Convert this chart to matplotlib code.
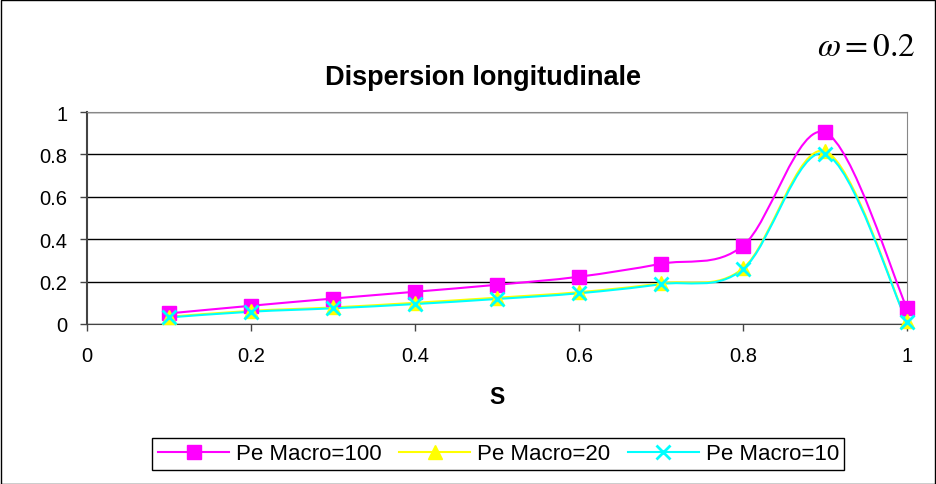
import matplotlib.pyplot as plt
import numpy as np
from matplotlib.path import Path
from matplotlib.patches import PathPatch, Rectangle
from matplotlib.lines import Line2D

plt.rcParams['font.family'] = ['Liberation Sans', 'DejaVu Sans']
plt.rcParams['mathtext.fontset'] = 'stix'

s = [0.1, 0.2, 0.3, 0.4, 0.5, 0.6, 0.7, 0.8, 0.9, 1.0]
pe100 = [0.050, 0.086, 0.120, 0.152, 0.185, 0.223, 0.284, 0.369, 0.904, 0.075]
pe20 = [0.034, 0.062, 0.078, 0.100, 0.124, 0.150, 0.192, 0.262, 0.815, 0.012]
pe10 = [0.031, 0.058, 0.074, 0.094, 0.118, 0.145, 0.188, 0.258, 0.803, 0.010]

names = ['Pe Macro=100', 'Pe Macro=20', 'Pe Macro=10']
colors = ['#FF00FF', '#FFFF00', '#00FFFF']
markers = ['s', '^', 'x']


def smooth_path(x, y):
    # excel-style smoothed line: bezier segments through the points
    p = np.column_stack([x, y])
    n = len(p)
    verts = [p[0]]
    codes = [Path.MOVETO]
    for i in range(n - 1):
        p0 = p[i - 1] if i > 0 else p[i]
        p3 = p[i + 2] if i + 2 < n else p[i + 1]
        c1 = p[i] + (p[i + 1] - p0) / 6
        c2 = p[i + 1] - (p3 - p[i]) / 6
        verts += [c1, c2, p[i + 1]]
        codes += [Path.CURVE4] * 3
    return Path(verts, codes)


fig = plt.figure(figsize=(9.37, 4.85), dpi=100)
fig.patches.append(Rectangle((0.001, 0.001), 0.997, 0.997, transform=fig.transFigure,
                             fill=False, edgecolor='black', linewidth=1))
ax = fig.add_axes([0.0928, 0.3299, 0.8751, 0.4371])

handles = []
for vals, name, c, m in zip([pe100, pe20, pe10], names, colors, markers):
    ax.add_patch(PathPatch(smooth_path(s, vals), fill=False, edgecolor=c,
                           linewidth=1.5, zorder=3, clip_on=False))
    if m == 'x':
        ax.plot(s, vals, ls='none', marker=m, ms=10, mew=2, color=c, zorder=4, clip_on=False)
    else:
        ax.plot(s, vals, ls='none', marker=m, ms=10, color=c, mec=c, zorder=4, clip_on=False)
    handles.append(Line2D([], [], color=c, marker=m, ms=10,
                          mew=2 if m == 'x' else 1, lw=1.5, label=name))

ax.set_xlim(0, 1)
ax.set_ylim(0, 1)
ax.set_xticks(np.arange(0, 1.01, 0.2))
ax.set_yticks(np.arange(0, 1.01, 0.2))
ax.set_xticklabels(['0', '0.2', '0.4', '0.6', '0.8', '1'])
ax.set_yticklabels(['0', '0.2', '0.4', '0.6', '0.8', '1'])
ax.yaxis.grid(True, color='black', linewidth=1)
ax.set_axisbelow(True)
ax.tick_params(labelsize=14.5, length=5, width=1, color='#444444')
ax.tick_params(axis='x', pad=11)
ax.tick_params(axis='y', pad=9)
for side in ['top', 'right']:
    ax.spines[side].set_color('#888888')
for side in ['left', 'bottom']:
    ax.spines[side].set_color('#444444')
ax.spines['left'].set_linewidth(1.5)

ax.set_xlabel('S', fontsize=16.5, fontweight='bold', labelpad=14)
fig.text(0.515, 0.839, 'Dispersion longitudinale', ha='center', va='center',
         fontsize=19.5, fontweight='bold')
fig.text(0.977, 0.903, r'$\omega = 0.2$', ha='right', va='center', fontsize=24)

fig.legend(handles=handles, loc='lower center', bbox_to_anchor=(0.532, 0.006), ncol=3,
           fancybox=False, edgecolor='black', framealpha=1, fontsize=16,
           handlelength=3.2, columnspacing=0.8, handletextpad=0.3,
           borderpad=0.25)

fig.savefig('out.png', dpi=100)
